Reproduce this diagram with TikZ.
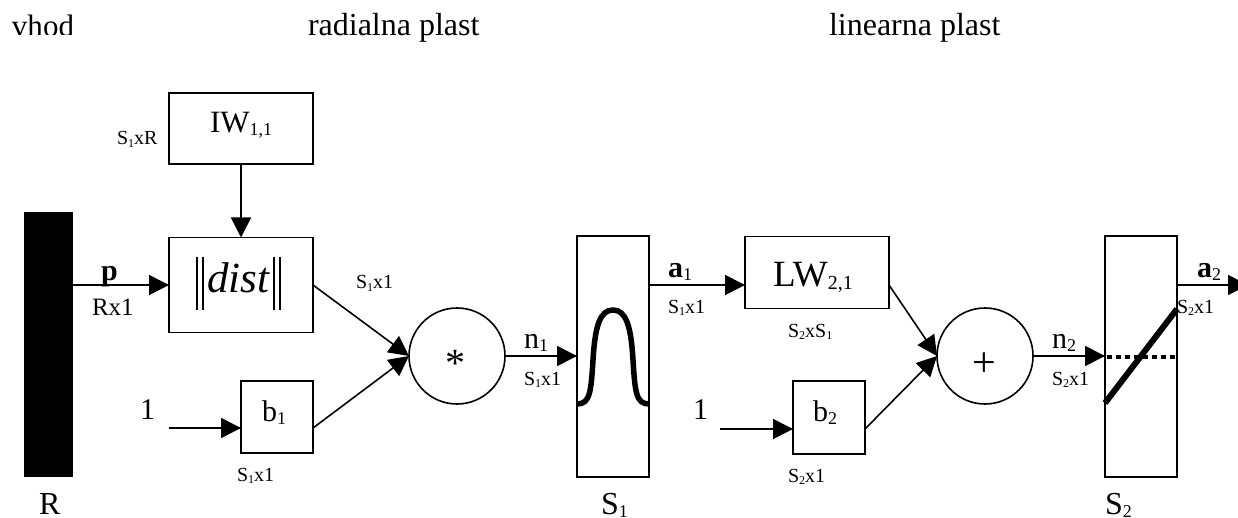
\documentclass[tikz,border=0pt]{standalone}
\usepackage{fontspec}
\setmainfont{Liberation Serif}
\usetikzlibrary{arrows.meta}
\newcommand\fsz[1]{\fontsize{#1}{#1}\selectfont}
\newcommand\lowidx[3]{{\fsz{#1}\raisebox{-#2pt}{#3}}}
\newcommand\smallS[1]{S\lowidx{12}{2.5}{#1}}
\tikzset{
  blockbox/.style={draw,line width=1.6pt,inner sep=0pt,outer sep=0pt,anchor=north west},
  sumcircle/.style={draw,circle,line width=1.6pt,minimum size=96pt,inner sep=0pt,outer sep=0pt},
  txt/.style={inner sep=0pt,outer sep=0pt,anchor=base west,font=\fsz{30}},
  heading/.style={txt,font=\fsz{32}},
  dimlabel/.style={txt,font=\fsz{20}},
  conn/.style={line width=1.6pt,-{Triangle[length=20pt,width=20pt]},shorten >=0pt},
  thickcurve/.style={line width=5.5pt},
  normbar/.style={line width=1.2pt},
}
\begin{document}
\begin{tikzpicture}[x=1pt,y=-1pt]
\useasboundingbox (0,0) rectangle (1238,518);
\clip (0,0) rectangle (1238,518);
% headings
\begin{scope}
  \clip (0,0) rectangle (200,35);
  \node[txt,font=\fsz{31}] (vhod) at (12,36.5) {vhod};
\end{scope}
\node[heading] (radial) at (308,36) {radialna plast};
\node[heading] (linear) at (829,36) {linearna plast};
% blocks
\node[blockbox,draw=none,fill=black,minimum width=49pt,minimum height=265pt] (R) at (24,212) {};
\node[blockbox,minimum width=144pt,minimum height=71pt] (IW) at (169,93) {};
\node[blockbox,minimum width=144pt,minimum height=95pt] (dist) at (169,237.5) {};
\node[blockbox,minimum width=72pt,minimum height=72pt] (b1) at (241,381) {};
\node[sumcircle] (mult) at (457,356) {};
\node[blockbox,minimum width=72pt,minimum height=241pt] (S1) at (577,236) {};
\node[blockbox,minimum width=144pt,minimum height=72pt] (LW) at (745,236.5) {};
\node[blockbox,minimum width=72pt,minimum height=73pt] (b2) at (793,381) {};
\node[sumcircle] (add) at (985,356) {};
\node[blockbox,minimum width=72pt,minimum height=241pt] (S2) at (1105,236) {};
% free ends and connector rows
\coordinate (in1) at (169,428);
\coordinate (in2) at (720,429);
\coordinate (out2) at (1248,285);
% connectors
\draw[conn] (IW.south) -- (dist.north);
\draw[conn] (R.east |- dist.west) -- (dist.west);
\draw[conn] (dist.east) -- (mult.west);
\draw[conn] (in1) -- (b1.west |- in1);
\draw[conn] (b1.east |- in1) -- (mult.west);
\draw[conn] (mult.east) -- (mult.east -| S1.west);
\draw[conn] (S1.east |- out2) -- (LW.west |- out2);
\draw[conn] (LW.east |- out2) -- (add.west);
\draw[conn] (in2) -- (b2.west |- in2);
\draw[conn] (b2.east |- in2) -- (add.west);
\draw[conn] (add.east) -- (add.east -| S2.west);
\draw[conn] (S2.east |- out2) -- (out2);
% transfer functions
\draw[thickcurve] (577,404) .. controls (590,404) and (591,392) .. (593,360)
  .. controls (595,326) and (600,310) .. (613,310)
  .. controls (626,310) and (631,326) .. (633,360)
  .. controls (635,392) and (636,404) .. (649,404);
\draw[line width=6pt] (1105,403) -- (1177,309);
\draw[line width=4pt,dash pattern=on 5pt off 4pt] (1107,356.5) -- (1175,356.5);
% block texts
\node[txt,font=\fsz{31}] (tIW) at (210,133) {IW\lowidx{18}{3}{1,1}};
\node[txt,font=\fsz{43}\itshape] (tdist) at (207,293) {dist};
\draw[normbar] (197,257) -- (197,310) (203,257) -- (203,310) (274,257) -- (274,310) (280,257) -- (280,310);
\node[txt] (tb1) at (262,421) {b\lowidx{18}{3}{1}};
\node[txt] (one1) at (140,419) {1};
\node[txt,font=\fsz{40}] (star) at (445,376) {*};
\node[txt,font=\fsz{37}] (tLW) at (773,287) {LW\lowidx{20}{3}{2,1}};
\node[txt] (tb2) at (813,421) {b\lowidx{18}{3}{2}};
\node[txt] (one2) at (693,419) {1};
\node[txt,font=\fsz{42}] (plus) at (972,376) {+};
% signal labels
\node[txt,font=\fsz{30}\bfseries] (p) at (101,281) {p};
\node[txt,font=\fsz{25}] (Rx1) at (92,315) {Rx1};
\node[txt] (n1) at (524,348) {n\lowidx{18}{3}{1}};
\node[txt] (a1) at (668,278) {\textbf{a}\lowidx{18}{3}{1}};
\node[txt] (n2) at (1052,348) {n\lowidx{18}{3}{2}};
\node[txt] (a2) at (1197,278) {\textbf{a}\lowidx{18}{3}{2}};
% dimension labels
\node[dimlabel] (d1) at (117,145) {\smallS{1}xR};
\node[dimlabel] (d2) at (356,289) {\smallS{1}x1};
\node[dimlabel] (d3) at (237,481) {\smallS{1}x1};
\node[dimlabel] (d4) at (524,385) {\smallS{1}x1};
\node[dimlabel] (d5) at (668,313) {\smallS{1}x1};
\node[dimlabel] (d6) at (788,337) {\smallS{2}x\smallS{1}};
\node[dimlabel] (d7) at (788,482) {\smallS{2}x1};
\node[dimlabel] (d8) at (1052,385) {\smallS{2}x1};
\node[dimlabel] (d9) at (1177,313) {\smallS{2}x1};
% layer sizes
\node[heading] (lR) at (39,514) {R};
\node[heading] (lS1) at (601,514) {S\lowidx{18}{3}{1}};
\node[heading] (lS2) at (1105,514) {S\lowidx{18}{3}{2}};
\end{tikzpicture}
\end{document}
